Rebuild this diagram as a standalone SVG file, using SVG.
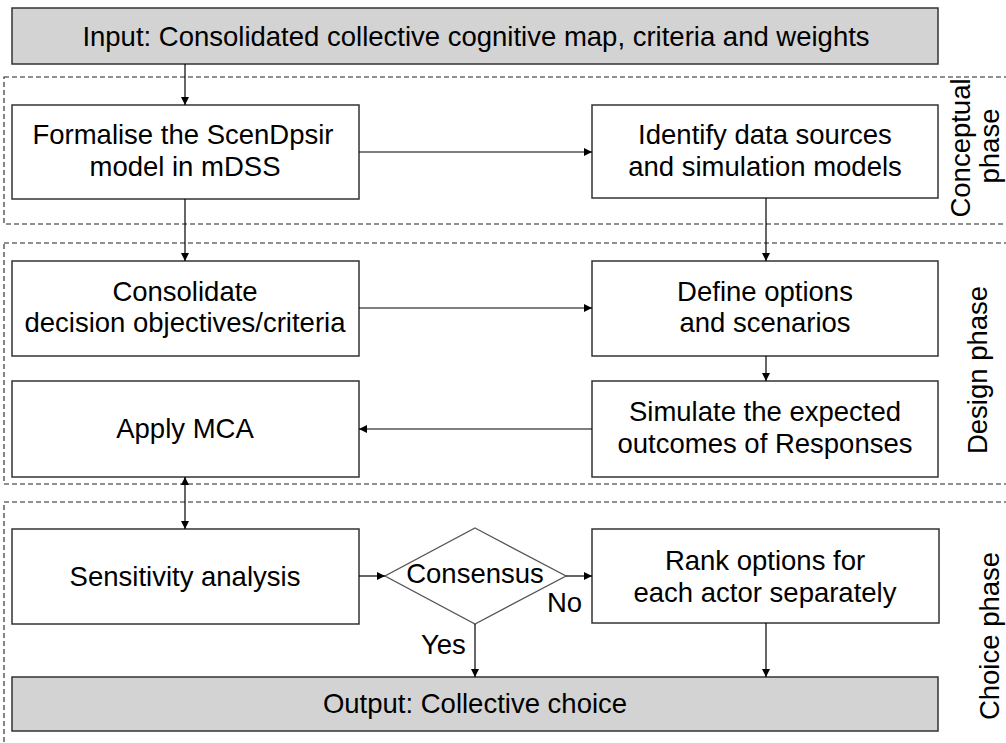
<svg xmlns="http://www.w3.org/2000/svg" width="1006" height="743" viewBox="0 0 1006 743">
<style>
text{font-family:"Liberation Sans",Arial,sans-serif;font-size:27.5px;fill:#000}
.c{text-anchor:middle}
.box{fill:#fff;stroke:#333;stroke-width:1.5}
.gbox{fill:#d3d3d3;stroke:#333;stroke-width:1.5}
.phase{fill:none;stroke:#222;stroke-width:1.1;stroke-dasharray:5 3}
.conn line{stroke:#000;stroke-width:1.2}
</style>
<defs>
<marker id="ah" viewBox="0 0 10 10" refX="10" refY="5" markerWidth="8" markerHeight="8" markerUnits="userSpaceOnUse" orient="auto-start-reverse">
<path d="M0,0 L10,5 L0,10 z" fill="#000"/>
</marker>
</defs>
<g id="phases">
<rect class="phase" x="4" y="77" width="1010" height="147"/>
<rect class="phase" x="4" y="243" width="1010" height="241"/>
<rect class="phase" x="4" y="502" width="1010" height="250"/>
<text class="c" transform="translate(970,148) rotate(-90)">Conceptual</text>
<text class="c" transform="translate(999,146) rotate(-90)">phase</text>
<text class="c" transform="translate(987,370) rotate(-90)">Design phase</text>
<text class="c" transform="translate(999,636) rotate(-90)">Choice phase</text>
</g>
<g id="input">
<rect class="gbox" x="12" y="8" width="926" height="56"/>
<text class="c" x="476" y="46">Input: Consolidated collective cognitive map, criteria and weights</text>
</g>
<g id="formalise">
<rect class="box" x="12" y="105" width="347" height="94"/>
<text class="c" x="183" y="144">Formalise the ScenDpsir</text>
<text class="c" x="185" y="176">model in mDSS</text>
</g>
<g id="identify">
<rect class="box" x="592" y="105" width="346" height="93"/>
<text class="c" x="765" y="144">Identify data sources</text>
<text class="c" x="765" y="176">and simulation models</text>
</g>
<g id="consolidate">
<rect class="box" x="12" y="261" width="347" height="95"/>
<text class="c" x="185" y="301">Consolidate</text>
<text class="c" x="185" y="332">decision objectives/criteria</text>
</g>
<g id="define">
<rect class="box" x="592" y="261" width="346" height="95"/>
<text class="c" x="765" y="301">Define options</text>
<text class="c" x="765" y="332">and scenarios</text>
</g>
<g id="apply">
<rect class="box" x="12" y="381" width="347" height="96"/>
<text class="c" x="185" y="438">Apply MCA</text>
</g>
<g id="simulate">
<rect class="box" x="592" y="381" width="346" height="96"/>
<text class="c" x="765" y="421">Simulate the expected</text>
<text class="c" x="765" y="453">outcomes of Responses</text>
</g>
<g id="sensitivity">
<rect class="box" x="12" y="529" width="347" height="95"/>
<text class="c" x="185" y="586">Sensitivity analysis</text>
</g>
<g id="consensus">
<polygon points="475,528 566,576 475,624 385,576" fill="#fff" stroke="#555" stroke-width="1.3"/>
<text class="c" x="475" y="583">Consensus</text>
</g>
<g id="rank">
<rect class="box" x="592" y="529" width="347" height="94"/>
<text class="c" x="765" y="570">Rank options for</text>
<text class="c" x="765" y="602">each actor separately</text>
</g>
<g id="output">
<rect class="gbox" x="12" y="677" width="926" height="54"/>
<text class="c" x="475" y="713">Output: Collective choice</text>
</g>
<g id="connectors" class="conn">
<line x1="185" y1="64" x2="185" y2="105" marker-end="url(#ah)"/>
<line x1="359" y1="152" x2="592" y2="152" marker-end="url(#ah)"/>
<line x1="185" y1="199" x2="185" y2="261" marker-end="url(#ah)"/>
<line x1="766" y1="198" x2="766" y2="261" marker-end="url(#ah)"/>
<line x1="359" y1="308" x2="592" y2="308" marker-end="url(#ah)"/>
<line x1="766" y1="356" x2="766" y2="381" marker-end="url(#ah)"/>
<line x1="592" y1="429" x2="359" y2="429" marker-end="url(#ah)"/>
<line x1="185" y1="477" x2="185" y2="529" marker-start="url(#ah)" marker-end="url(#ah)"/>
<line x1="359" y1="576" x2="385" y2="576" marker-end="url(#ah)"/>
<line x1="566" y1="576" x2="592" y2="576" marker-end="url(#ah)"/>
<line x1="475" y1="624" x2="475" y2="677" marker-end="url(#ah)"/>
<line x1="766" y1="623" x2="766" y2="677" marker-end="url(#ah)"/>
<text x="547" y="612">No</text>
<text x="421" y="654">Yes</text>
</g>
</svg>
